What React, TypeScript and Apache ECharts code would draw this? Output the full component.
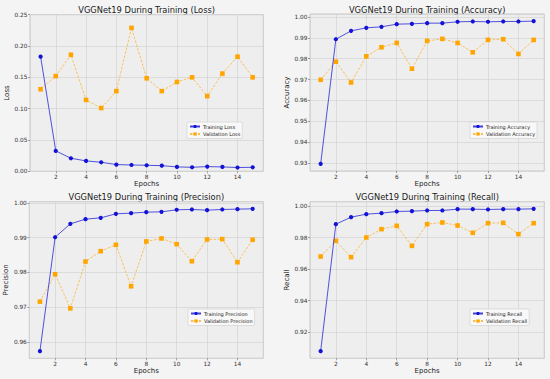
import React, { useEffect, useRef } from "react";
import * as echarts from "echarts";

const epochs = [1, 2, 3, 4, 5, 6, 7, 8, 9, 10, 11, 12, 13, 14, 15];

const trainLoss = [0.183, 0.0326, 0.0208, 0.0166, 0.0144, 0.0107, 0.0101, 0.0096, 0.009, 0.007, 0.0064, 0.0075, 0.007, 0.006, 0.0064];
const valLoss = [0.131, 0.152, 0.186, 0.114, 0.101, 0.128, 0.229, 0.1485, 0.128, 0.1426, 0.15, 0.12, 0.156, 0.183, 0.15];

const trainAcc = [0.9295, 0.98938, 0.9934, 0.99485, 0.99533, 0.99662, 0.99678, 0.9971, 0.9971, 0.99775, 0.9979, 0.99775, 0.9979, 0.9979, 0.99807];
const valAcc = [0.9699, 0.9786, 0.9686, 0.98117, 0.98552, 0.98761, 0.97522, 0.98857, 0.98954, 0.98761, 0.9831, 0.98906, 0.98938, 0.9823, 0.98906];

const trainPrec = [0.95742, 0.99012, 0.99396, 0.9953, 0.99568, 0.99683, 0.99703, 0.99731, 0.99741, 0.99799, 0.99808, 0.99789, 0.99808, 0.99818, 0.99827];
const valPrec = [0.97163, 0.9795, 0.96971, 0.98314, 0.98612, 0.98794, 0.97604, 0.9889, 0.98977, 0.98813, 0.98324, 0.98947, 0.98957, 0.98295, 0.98938];

const trainRec = [0.90794, 0.98857, 0.99302, 0.99492, 0.99556, 0.99661, 0.99683, 0.99725, 0.99725, 0.9981, 0.9981, 0.99788, 0.9981, 0.9981, 0.99831];
const valRec = [0.96804, 0.97799, 0.96762, 0.98011, 0.9854, 0.98751, 0.97481, 0.98857, 0.98963, 0.98772, 0.98307, 0.98921, 0.98942, 0.98222, 0.98921];

const panels = [
  { metric: "Loss", train: trainLoss, val: valLoss, yMin: 0, yMax: 0.25, yInt: 0.05, fixed: true },
  { metric: "Accuracy", train: trainAcc, val: valAcc, yInt: 0.01, fixed: false },
  { metric: "Precision", train: trainPrec, val: valPrec, yInt: 0.01, fixed: false },
  { metric: "Recall", train: trainRec, val: valRec, yInt: 0.02, fixed: false },
];

const grids = [
  { left: 30, top: 14.7, width: 233.3, height: 156.6 },
  { left: 310, top: 14, width: 234.3, height: 157 },
  { left: 29.3, top: 201.7, width: 234, height: 156.6 },
  { left: 310, top: 201.7, width: 234.3, height: 156.6 },
];
const legendPos = [
  { left: 187, top: 122 },
  { left: 470, top: 122 },
  { left: 188, top: 309 },
  { left: 470, top: 309 },
];

const FONT = "DejaVu Sans";
const BLUE = "#1212d6";
const ORANGE = "#ffa500";

export default function App() {
  const ref = useRef<HTMLDivElement>(null);
  useEffect(() => {
    if (!ref.current) return;
    const chart = echarts.init(ref.current, null, { renderer: "svg" });
    const xAxis: any[] = [];
    const yAxis: any[] = [];
    const series: any[] = [];
    const legend: any[] = [];
    const graphic: any[] = [];
    panels.forEach((p, i) => {
      const g = grids[i];
      let yMin = p.yMin as number | undefined;
      let yMax = p.yMax as number | undefined;
      if (!p.fixed) {
        const all = [...p.train, ...p.val];
        const lo = Math.min(...all);
        const hi = Math.max(...all);
        const m = (hi - lo) * 0.05;
        yMin = lo - m;
        yMax = hi + m;
      }
      xAxis.push({
        type: "value",
        gridIndex: i,
        min: 0.3,
        max: 15.7,
        minInterval: 2,
        maxInterval: 2,
        splitNumber: 7,
        name: "Epochs",
        nameLocation: "middle",
        nameGap: 7.5,
        nameTextStyle: { fontFamily: FONT, fontSize: 7, color: "#222222" },
        axisLine: { show: false },
        axisTick: { show: true, length: 2, lineStyle: { color: "#666", width: 0.6 } },
        axisLabel: {
          fontFamily: FONT,
          fontSize: 5.8,
          color: "#333",
          margin: 2.5,
          showMinLabel: false,
          showMaxLabel: false,
          formatter: (v: number) => String(Math.round(v)),
        },
        splitLine: { show: true, lineStyle: { color: "#d2d2d2", width: 0.7 } },
      });
      const yAx: any = {
        type: "value",
        gridIndex: i,
        min: yMin,
        max: yMax,
        name: p.metric,
        nameLocation: "middle",
        nameGap: 16,
        nameTextStyle: { fontFamily: FONT, fontSize: 7, color: "#222222" },
        axisLine: { show: false },
        axisTick: { show: true, length: 2, lineStyle: { color: "#666", width: 0.6 } },
        axisLabel: {
          fontFamily: FONT,
          fontSize: 5.8,
          color: "#333",
          margin: 2.5,
          formatter: (v: number) => v.toFixed(2),
        },
        splitLine: { show: true, lineStyle: { color: "#d2d2d2", width: 0.7 } },
      };
      if (p.fixed) {
        yAx.interval = p.yInt;
      } else {
        yAx.minInterval = p.yInt;
        yAx.maxInterval = p.yInt;
        yAx.splitNumber = Math.round(((yMax as number) - (yMin as number)) / p.yInt);
        yAx.axisLabel.showMinLabel = false;
        yAx.axisLabel.showMaxLabel = false;
      }
      yAxis.push(yAx);
      const tName = `Training ${p.metric}`;
      const vName = `Validation ${p.metric}`;
      series.push({
        type: "line",
        name: tName,
        xAxisIndex: i,
        yAxisIndex: i,
        data: epochs.map((e, k) => [e, p.train[k]]),
        symbol: "circle",
        symbolSize: 4.2,
        itemStyle: { color: BLUE },
        lineStyle: { color: BLUE, width: 0.9, opacity: 0.8 },
        z: 3,
      });
      series.push({
        type: "line",
        name: vName,
        xAxisIndex: i,
        yAxisIndex: i,
        data: epochs.map((e, k) => [e, p.val[k]]),
        symbol: "rect",
        symbolSize: 4.6,
        itemStyle: { color: ORANGE },
        lineStyle: { color: ORANGE, width: 0.9, type: [2.5, 1.5], opacity: 0.7 },
        z: 2,
      });
      legend.push({
        data: [tName, vName],
        orient: "vertical",
        left: legendPos[i].left,
        top: legendPos[i].top,
        itemWidth: 10,
        itemHeight: 4,
        itemGap: 2.5,
        padding: [2, 2, 2, 2],
        backgroundColor: "rgba(248,248,248,0.9)",
        borderColor: "#cccccc",
        borderWidth: 0.6,
        borderRadius: 1,
        textStyle: { fontFamily: FONT, fontSize: 5, color: "#222", padding: [0, 0, 0, -2] },
      });
      graphic.push({
        type: "text",
        x: g.left + g.width / 2,
        y: i < 2 ? 9.5 : 196.5,
        style: {
          text: `VGGNet19 During Training (${p.metric})`,
          font: `8.3px "${FONT}"`,
          fill: "#1a1a1a",
          align: "center",
          verticalAlign: "middle",
        },
      });
    });
    chart.setOption({
      animation: false,
      backgroundColor: "#f4f4f4",
      grid: grids.map((g) => ({
        ...g,
        show: true,
        backgroundColor: "#eeeeee",
        borderColor: "#bdbdbd",
        borderWidth: 0.8,
        containLabel: false,
      })),
      xAxis,
      yAxis,
      series,
      legend,
      graphic,
    });
    return () => chart.dispose();
  }, []);
  return (
    <div
      ref={ref}
      style={{ position: "fixed", left: 0, top: 0, width: 550, height: 379 }}
    />
  );
}
